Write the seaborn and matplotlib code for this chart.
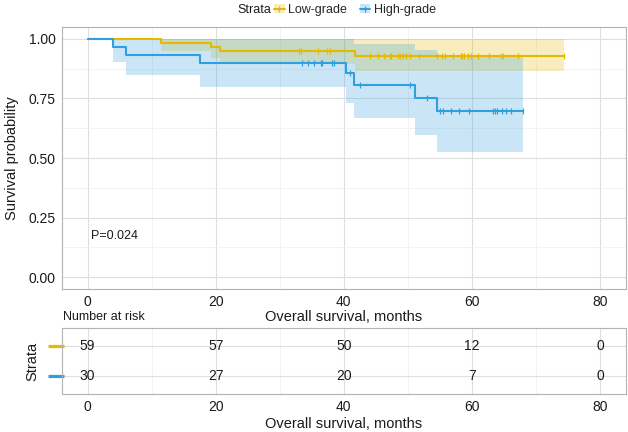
import numpy as np
import pandas as pd
import matplotlib
matplotlib.use("Agg")
import matplotlib.pyplot as plt
import seaborn as sns
from matplotlib.lines import Line2D
from matplotlib.patches import Patch
from matplotlib.ticker import MultipleLocator
import matplotlib.transforms as mtransforms

# ---------------- data ----------------
strata = ["Low-grade", "High-grade"]
colors = ["#E7B800", "#2E9FDF"]

low_time = [0, 11.5, 19.3, 20.6, 41.7]
low_surv = [1.0, 0.983, 0.966, 0.949, 0.930]
low_lower = [1.0, 0.951, 0.921, 0.895, 0.866]
low_upper = [1.0, 1.0, 1.0, 1.0, 1.0]
low_end = 74.4
low_censor = [33.0, 33.3, 36.0, 37.4, 37.8, 44.1, 45.4, 46.3, 47.2, 47.4, 48.5,
              48.8, 49.3, 49.7, 50.3, 51.8, 54.5, 55.3, 55.8, 57.1, 58.3, 58.5,
              58.8, 59.4, 59.9, 61.0, 62.7, 64.5, 64.8, 67.2, 74.4]

high_time = [0, 4.0, 6.0, 17.6, 40.3, 41.6, 51.1, 54.6]
high_surv = [1.0, 0.967, 0.933, 0.900, 0.855, 0.808, 0.754, 0.696]
high_lower = [1.0, 0.905, 0.848, 0.799, 0.732, 0.666, 0.596, 0.525]
high_upper = [1.0, 1.0, 1.0, 1.0, 1.0, 0.979, 0.953, 0.923]
high_end = 68.0
high_censor = [33.5, 34.4, 35.3, 36.5, 36.6, 38.2, 38.4, 40.9, 42.5, 50.3, 53.0,
               55.0, 55.5, 56.8, 58.0, 59.5, 63.3, 63.6, 63.9, 64.7, 65.4, 66.1, 68.0]

risk_times = [0, 20, 40, 60, 80]
low_risk = [59, 57, 50, 12, 0]
high_risk = [30, 27, 20, 7, 0]
p_label = "P=0.024"
x_ticks = [0, 20, 40, 60, 80]
y_ticks = [0.00, 0.25, 0.50, 0.75, 1.00]

# ---------------- style ----------------
sns.set_theme(style="white")
plt.rcParams["font.family"] = ["Liberation Sans", "DejaVu Sans"]
GRID_MAJ = "#DEDEDE"
GRID_MIN = "#EEEEEE"
BORDER = "#B3B3B3"
TXT = "#1A1A1A"

series = [
    (strata[0], colors[0], low_time, low_surv, low_lower, low_upper, low_end, low_censor),
    (strata[1], colors[1], high_time, high_surv, high_lower, high_upper, high_end, high_censor),
]

rows = []
for name, c, t, s, lo, up, end, cens in series:
    for ti, si in zip(list(t) + [end], list(s) + [s[-1]]):
        rows.append({"time": ti, "surv": si, "strata": name})
df = pd.DataFrame(rows)

fig = plt.figure(figsize=(6.28, 4.32), dpi=100)
ax = fig.add_axes([0.0987, 0.331, 0.8975, 0.6065])


def style_axes(a):
    for sp in a.spines.values():
        sp.set_visible(True)
        sp.set_color(BORDER)
        sp.set_linewidth(0.8)
    a.set_axisbelow(True)
    a.tick_params(axis="both", which="major", length=2.5, width=0.6, color=BORDER,
                  labelsize=10, labelcolor=TXT, pad=2)
    a.tick_params(axis="both", which="minor", length=0)


# confidence bands
for name, c, t, s, lo, up, end, cens in series:
    tt = np.array(list(t) + [end])
    ax.fill_between(tt, list(lo) + [lo[-1]], list(up) + [up[-1]], step="post",
                    color=c, alpha=0.25, lw=0)

sns.lineplot(data=df, x="time", y="surv", hue="strata", hue_order=strata,
             palette=colors, drawstyle="steps-post", estimator=None, sort=False,
             legend=False, lw=1.5, ax=ax)

# censor marks
for name, c, t, s, lo, up, end, cens in series:
    idx = np.searchsorted(np.array(t), np.array(cens), side="right") - 1
    ys = np.array(s)[idx]
    ax.plot(cens, ys, ls="none", marker="|", ms=5, mew=0.9, color=c)

ax.set_xlim(-4, 84)
ax.set_ylim(-0.05, 1.05)
ax.set_xticks(x_ticks)
ax.set_yticks(y_ticks)
ax.set_yticklabels([f"{v:.2f}" for v in y_ticks])
ax.xaxis.set_minor_locator(MultipleLocator(10))
ax.yaxis.set_minor_locator(MultipleLocator(0.125))
ax.grid(which="major", color=GRID_MAJ, lw=0.8)
ax.grid(which="minor", color=GRID_MIN, lw=0.5)
style_axes(ax)
ax.set_xlabel("Overall survival, months", fontsize=10.5, color=TXT)
ax.set_ylabel("Survival probability", fontsize=10.5, color=TXT)
ax.xaxis.label.set_va("center")
ax.yaxis.label.set_va("center")
ax.xaxis.set_label_coords(0.5, -0.107)
ax.yaxis.set_label_coords(-0.088, 0.5)
ax.text(0.6, 0.172, p_label, ha="left", va="center", fontsize=9, color=TXT)

# legend at top
fig.text(237 / 628, 1 - 10 / 432, "Strata", ha="left", va="center", fontsize=9, color=TXT)
handles = [(Patch(facecolor=c, alpha=0.25, lw=0),
            Line2D([], [], color=c, lw=1.4, marker="|", ms=5, mew=0.9))
           for c in colors]
fig.legend(handles, strata, loc="center left", bbox_to_anchor=(274 / 628, 1 - 10 / 432),
           ncol=2, frameon=False, fontsize=9, handlelength=0.85, handleheight=0.75,
           handletextpad=0.3, columnspacing=1.0, borderpad=0, borderaxespad=0,
           numpoints=1)

# ---------------- risk table ----------------
ax2 = fig.add_axes([0.0987, 0.088, 0.8975, 0.1528])
ypos = [2, 1]
ax2.set_xlim(-4, 84)
ax2.set_ylim(0.4, 2.6)
ax2.set_xticks(x_ticks)
ax2.xaxis.set_minor_locator(MultipleLocator(10))
ax2.set_yticks(ypos)
ax2.set_yticklabels(["", ""])
ax2.grid(which="major", color=GRID_MAJ, lw=0.8)
ax2.grid(which="minor", axis="x", color=GRID_MIN, lw=0.5)
style_axes(ax2)
ax2.tick_params(axis="y", length=0)
for yp, counts in zip(ypos, [low_risk, high_risk]):
    for tx, n in zip(risk_times, counts):
        ax2.text(tx, yp, str(n), ha="center", va="center", fontsize=10, color=TXT)
trans = mtransforms.blended_transform_factory(ax2.transAxes, ax2.transData)
for yp, c in zip(ypos, colors):
    ax2.plot([-0.025, 0.004], [yp, yp], color=c, lw=2.3, transform=trans,
             clip_on=False, solid_capstyle="butt")
ax2.set_xlabel("Overall survival, months", fontsize=10.5, color=TXT)
ax2.xaxis.label.set_va("center")
ax2.xaxis.set_label_coords(0.5, -0.455)
ax2.set_ylabel("Strata", fontsize=10.5, color=TXT)
ax2.yaxis.label.set_va("center")
ax2.yaxis.set_label_coords(-0.053, 0.5)
fig.text(63 / 628, 1 - 317 / 432, "Number at risk", ha="left", va="center",
         fontsize=9, color=TXT)

fig.savefig("out.png", dpi=100)
